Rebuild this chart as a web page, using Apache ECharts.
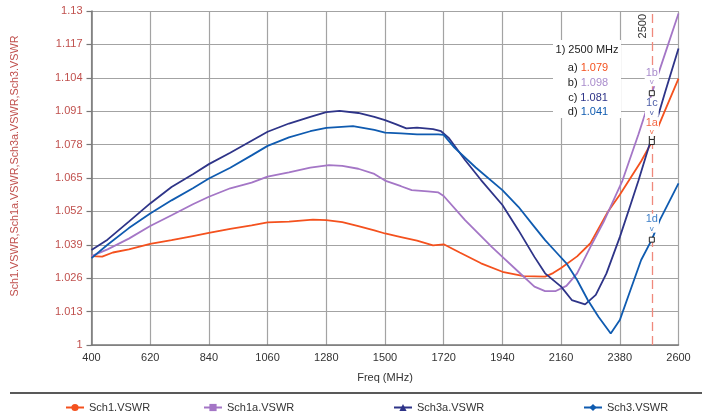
<!DOCTYPE html>
<html><head><meta charset="utf-8">
<script src="https://cdn.jsdelivr.net/npm/echarts@6/dist/echarts.min.js"></script>
<style>html,body{margin:0;padding:0;background:#fff}#c{width:702px;height:415px}</style>
</head><body><div id="c"></div><script>
// ---- data ----
const sch1Freq = [400,440,480,540,620,700,780,840,920,1000,1060,1140,1230,1280,1340,1400,1460,1500,1560,1620,1680,1720,1780,1860,1940,2020,2100,2130,2160,2220,2270,2336,2380,2420,2460,2500,2550,2600];
const sch1Vswr = [1.0346,1.0344,1.0360,1.0372,1.0394,1.0408,1.0424,1.0436,1.0452,1.0466,1.0477,1.0480,1.0488,1.0486,1.0478,1.0463,1.0446,1.0434,1.0420,1.0406,1.0388,1.0392,1.0360,1.0318,1.0285,1.0268,1.0266,1.0280,1.0300,1.0345,1.0396,1.0520,1.0585,1.0650,1.0715,1.079,1.0914,1.1037];

const sch1aFreq = [400,460,540,620,700,780,840,920,1000,1060,1140,1220,1290,1340,1400,1460,1500,1560,1600,1660,1700,1720,1800,1900,1940,2000,2060,2100,2140,2180,2220,2270,2320,2390,2450,2500,2550,2600];
const sch1aVswr = [1.0346,1.0372,1.0414,1.0463,1.0505,1.0548,1.0577,1.0610,1.0632,1.0655,1.0672,1.0690,1.0700,1.0697,1.0686,1.0666,1.0640,1.0618,1.0603,1.0598,1.0594,1.0580,1.0486,1.0382,1.0343,1.0285,1.0227,1.0210,1.0210,1.0230,1.0279,1.0382,1.0480,1.0640,1.0820,1.098,1.1135,1.1290];

const sch3aFreq = [400,460,540,620,700,780,840,920,1000,1060,1140,1220,1280,1330,1400,1460,1500,1540,1580,1620,1680,1710,1740,1800,1860,1940,2000,2060,2100,2160,2200,2250,2290,2330,2380,2420,2450,2500,2550,2600];
const sch3aVswr = [1.0370,1.0410,1.0480,1.0551,1.0615,1.0665,1.0704,1.0748,1.0795,1.0830,1.0862,1.0888,1.0906,1.0911,1.0903,1.0888,1.0875,1.0860,1.0843,1.0846,1.0840,1.0832,1.0805,1.0720,1.0642,1.0545,1.0447,1.0343,1.0279,1.0227,1.0175,1.0158,1.0195,1.0279,1.0420,1.0545,1.0640,1.081,1.0985,1.1154];

const sch3Freq = [400,460,540,620,700,780,840,920,1000,1060,1140,1220,1280,1380,1460,1500,1560,1620,1700,1720,1760,1840,1940,2000,2060,2100,2140,2180,2220,2260,2300,2346,2380,2420,2460,2500,2530,2600];
const sch3Vswr = [1.0338,1.0390,1.0455,1.0512,1.0563,1.0610,1.0648,1.0690,1.0738,1.0775,1.0808,1.0832,1.0845,1.0852,1.0837,1.0827,1.0824,1.0820,1.0820,1.0818,1.0768,1.0691,1.0603,1.0538,1.0460,1.0408,1.0363,1.0318,1.0253,1.0175,1.0110,1.0045,1.0097,1.0214,1.0331,1.041,1.0486,1.0629];

const seriesNames = ['Sch1.VSWR','Sch1a.VSWR','Sch3a.VSWR','Sch3.VSWR'];
const markerTags = ['1a','1b','1c','1d'];
const markerLetters = ['a','b','c','d'];
const markerFreq = 2500;
const xMin = 400, xMax = 2600, xStep = 220;
const yMin = 1, yMax = 1.13, yStep = 0.013;
const xName = 'Freq (MHz)';
const yName = 'Sch1.VSWR,Sch1a.VSWR,Sch3a.VSWR,Sch3.VSWR';

// ---- styling ----
const FONT = "'Liberation Sans', Arial, sans-serif";
const colors = ['#f4511e','#a476c6','#2e3488','#0f5bb0'];
const labelColors = ['#f26a48','#a98ccc','#4f5fa8','#3f80c8'];
const valueColors = ['#f4511e','#a98ccc','#2e3488','#0f5bb0'];
const symbols = ['circle','rect','triangle','diamond'];
const markDist = [3,4,17,4];
const freqs = [sch1Freq, sch1aFreq, sch3aFreq, sch3Freq];
const vals = [sch1Vswr, sch1aVswr, sch3aVswr, sch3Vswr];
const at = (f,v,x)=>v[f.indexOf(x)];

const series = seriesNames.map((name,i)=>{
  const mv = at(freqs[i], vals[i], markerFreq);
  const s = {
    name, type:'line', data: freqs[i].map((x,k)=>[x, vals[i][k]]),
    showSymbol:false, symbol:symbols[i], symbolSize:8,
    lineStyle:{color:colors[i], width:1.8}, itemStyle:{color:colors[i]},
    z: 3,
    markPoint:{
      z: 8, silent:true, animation:false,
      data:[{coord:[markerFreq, mv], symbol:'rect', symbolSize:5,
        itemStyle:{color:'#fff', borderColor:'#222', borderWidth:1},
        label:{show:true, position:'top', distance:markDist[i], backgroundColor:'#fff', padding:[0,1,0,1],
          formatter:'{t|'+markerTags[i]+'}\n{a|v}',
          rich:{t:{fontFamily:FONT, fontSize:11, lineHeight:11, color:labelColors[i], align:'center'},
                a:{fontFamily:FONT, fontSize:8, lineHeight:8, color:labelColors[i], align:'center'}}}}]
    }
  };
  if(i===0){
    s.markLine = {silent:true, symbol:'none', animation:false, z:2,
      lineStyle:{color:'#f0897c', type:[9,5], width:1.3},
      label:{show:true, position:'insideEndTop', formatter:String(markerFreq), color:'#333', fontFamily:FONT, fontSize:11, distance:3},
      data:[{xAxis:markerFreq}]};
  }
  return s;
});

const legendLeft = [60,198,388,578];
const legends = seriesNames.map((n,i)=>({
  data:[n], left:legendLeft[i], top:397, itemWidth:18, itemHeight:9, itemGap:0,
  textStyle:{fontFamily:FONT, fontSize:11, color:'#333'}, selectedMode:false
}));

// readout box
const boxLines = [
  {type:'rect', z:100, shape:{x:0, y:0, width:68, height:78}, style:{fill:'#fff'}},
  {type:'text', z:101, x:34, y:10, style:{text:'1) '+markerFreq+' MHz', fill:'#222', font:'11px '+FONT, align:'center', verticalAlign:'middle'}}
];
markerLetters.forEach((l,i)=>{
  boxLines.push({type:'text', z:101, x:35, y:28+i*14.8, style:{
    text:'{k|'+l+') }{v|'+at(freqs[i],vals[i],markerFreq).toFixed(3)+'}',
    rich:{k:{fill:'#222', font:'11px '+FONT}, v:{fill:valueColors[i], font:'11px '+FONT}},
    align:'center', verticalAlign:'middle'}});
});

const chart = echarts.init(document.getElementById('c'), null, {renderer:'canvas'});
chart.setOption({
  animation:false,
  backgroundColor:'#fff',
  textStyle:{fontFamily:FONT},
  grid:{left:91.5, right:23.5, top:11, bottom:70},
  xAxis:{type:'value', min:xMin, max:xMax, interval:xStep,
    name:xName, nameLocation:'middle', nameGap:27, nameTextStyle:{fontFamily:FONT, fontSize:11, color:'#333'},
    axisLine:{show:true, lineStyle:{color:'#777', width:1.5}}, axisTick:{show:false},
    axisLabel:{color:'#333', fontSize:11, margin:7, fontFamily:FONT, formatter:v=>String(v)},
    splitLine:{show:true, lineStyle:{color:'#a3a3a3', width:1.2}}},
  yAxis:{type:'value', min:yMin, max:yMax, interval:yStep,
    axisLine:{show:true, lineStyle:{color:'#777', width:1.5}}, axisTick:{show:true, length:5, lineStyle:{color:'#777', width:1.2}},
    axisLabel:{color:'#c0504d', fontSize:11, margin:9, fontFamily:FONT},
    splitLine:{show:true, lineStyle:{color:'#a3a3a3', width:1.2}}},
  legend: legends,
  series,
  graphic:[
    {type:'text', x:15, y:166, rotation:Math.PI/2, style:{text:yName, fill:'#c0504d', font:'10.8px '+FONT, align:'center', verticalAlign:'middle'}},
    {type:'line', shape:{x1:10, y1:393, x2:702, y2:393}, style:{stroke:'#222', lineWidth:1.5}},
    {type:'group', x:553, y:40, children:boxLines}
  ]
});
</script></body></html>
